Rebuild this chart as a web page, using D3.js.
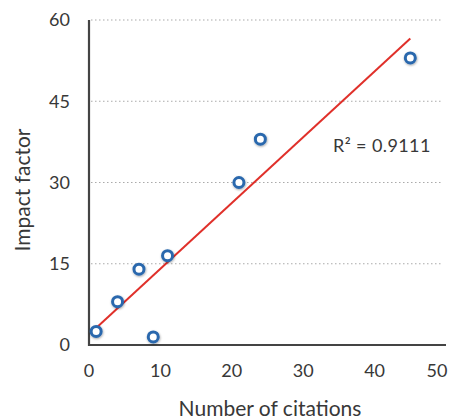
<!DOCTYPE html>
<html>
    <head>
        <title>Impact factor vs citations</title>
        <meta charset="UTF-8">
        <style>
            body {margin:0; background:#fff;}
            text {font-family: Lato, "Open Sans", sans-serif; fill:#383838;}
            .grid line {stroke:#aaa; stroke-width:1.2px; stroke-dasharray:1.5,2.5;}
        </style>
        <script src="https://cdn.jsdelivr.net/npm/d3@7"></script>
    </head>
    <body>
        <svg width="457" height="420"></svg>
        <script>
            //... data
            var citations = [1, 4, 7, 9, 11, 21, 24, 45];
            var impact = [2.5, 8, 14, 1.5, 16.5, 30, 38, 53];
            var xTicks = [0, 10, 20, 30, 40, 50];
            var yTicks = [0, 15, 30, 45, 60];
            var r2Label = "R\u00b2 = 0.9111";

            var svg = d3.select("svg");
            var x = d3.scaleLinear().domain([0, 50]).range([89, 446]);
            var y = d3.scaleLinear().domain([0, 60]).range([345, 20]);

            //... gridlines
            svg.append("g").attr("class", "grid")
                .selectAll("line").data(yTicks.filter(d => d > 0)).enter()
                .append("line")
                .attr("x1", x(0) + 2).attr("x2", 441)
                .attr("y1", d => y(d)).attr("y2", d => y(d));

            //... axes
            svg.append("line")
                .attr("x1", x(0)).attr("x2", x(0)).attr("y1", y(60)).attr("y2", y(0) + 1)
                .style("stroke", "#444").style("stroke-width", 2.2);
            svg.append("line")
                .attr("x1", x(0) - 1).attr("x2", x(50)).attr("y1", y(0)).attr("y2", y(0))
                .style("stroke", "#444").style("stroke-width", 2.2);

            svg.append("g").selectAll("text").data(yTicks).enter()
                .append("text")
                .attr("x", 70).attr("y", d => y(d)).attr("dy", "0.36em")
                .attr("text-anchor", "end").style("font-size", "18px")
                .text(d => d);

            svg.append("g").selectAll("text").data(xTicks).enter()
                .append("text")
                .attr("x", d => d == 50 ? x(d) - 9 : x(d)).attr("y", 377)
                .attr("text-anchor", "middle").style("font-size", "18px")
                .text(d => d);

            //... titles
            svg.append("text")
                .attr("transform", "translate(30,190) rotate(-90)")
                .attr("text-anchor", "middle").style("font-size", "21px")
                .text("Impact factor");
            svg.append("text")
                .attr("x", 270).attr("y", 416)
                .attr("text-anchor", "middle").style("font-size", "21px")
                .text("Number of citations");

            //... linear trend line
            var pts = citations.map((c, i) => [c, impact[i]]);
            var mx = d3.mean(citations), my = d3.mean(impact);
            var sxy = d3.sum(pts, p => (p[0] - mx) * (p[1] - my));
            var sxx = d3.sum(citations, c => (c - mx) * (c - mx));
            var slope = sxy / sxx, icpt = my - slope * mx;
            var ext = d3.extent(citations);
            svg.append("line")
                .attr("x1", x(ext[0])).attr("y1", y(icpt + slope * ext[0]))
                .attr("x2", x(ext[1])).attr("y2", y(icpt + slope * ext[1]))
                .style("stroke", "#e0302a").style("stroke-width", 2);

            svg.append("text")
                .attr("x", 333).attr("y", 152)
                .style("font-size", "18px").style("letter-spacing", "0.4px")
                .text(r2Label);

            //... markers
            var defs = svg.append("defs");
            defs.append("filter").attr("id", "sh")
                .attr("x", "-50%").attr("y", "-50%").attr("width", "200%").attr("height", "200%")
                .append("feDropShadow").attr("dx", 0.5).attr("dy", 1).attr("stdDeviation", 1)
                .attr("flood-color", "#000").attr("flood-opacity", 0.35);

            svg.append("g").selectAll("circle").data(pts).enter()
                .append("circle")
                .attr("cx", d => x(d[0])).attr("cy", d => y(d[1]))
                .attr("r", 5)
                .style("fill", "#fff").style("stroke", "#2a68ad").style("stroke-width", 3)
                .attr("filter", "url(#sh)");
        </script>
    </body>
</html>
